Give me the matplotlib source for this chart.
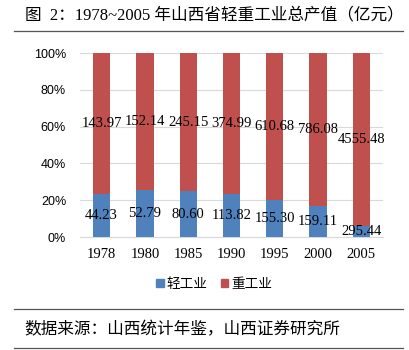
import matplotlib
matplotlib.use("Agg")
import matplotlib.pyplot as plt
from matplotlib.lines import Line2D
from matplotlib.patches import Patch
import numpy as np

years = ["1978", "1980", "1985", "1990", "1995", "2000", "2005"]
light = [44.23, 52.79, 80.60, 113.82, 155.30, 159.11, 295.44]
heavy = [143.97, 152.14, 245.15, 374.99, 610.68, 786.08, 4555.48]
series_names = ["轻工业", "重工业"]

title = "图  2：1978~2005 年山西省轻重工业总产值（亿元）"
source = "数据来源：山西统计年鉴，山西证券研究所"

blue = "#4F81BD"
red = "#C0504D"
cjk = ["Liberation Serif", "Noto Sans CJK SC"]
cjk_sans = ["Noto Sans CJK SC", "DejaVu Sans"]

light_a = np.array(light)
heavy_a = np.array(heavy)
total = light_a + heavy_a
lp = light_a / total
hp = heavy_a / total
x = np.arange(len(years))

fig = plt.figure(figsize=(4.1, 3.5), dpi=100)
ax = fig.add_axes([80 / 410, 1 - 237 / 350, 303 / 410, 184 / 350])

ax.bar(x, lp, width=0.4, color=blue, zorder=3)
ax.bar(x, hp, width=0.4, bottom=lp, color=red, zorder=3)

for i in range(len(years)):
    ax.text(x[i], lp[i] / 2, "%.2f" % light[i], ha="center", va="center",
            family="Liberation Serif", fontsize=10.5, zorder=4)
    ax.text(x[i], lp[i] + hp[i] / 2, "%.2f" % heavy[i], ha="center", va="center",
            family="Liberation Serif", fontsize=10.5, zorder=4)

ax.set_xlim(-0.5, len(years) - 0.5)
ax.set_ylim(0, 1)
ax.set_yticks(np.linspace(0, 1, 6))
ax.set_yticklabels(["%d%%" % v for v in range(0, 101, 20)],
                   family="Liberation Sans", fontsize=9)
ax.set_xticks(x)
ax.set_xticklabels(years, family="Liberation Serif", fontsize=10.5)
ax.tick_params(axis="y", length=0, pad=10)
ax.tick_params(axis="x", length=0, pad=8)
ax.yaxis.grid(True, color="#D9D9D9", linewidth=0.8, zorder=0)
for s in ["top", "right", "left"]:
    ax.spines[s].set_visible(False)
ax.spines["bottom"].set_color("#D9D9D9")

handles = [Patch(color=blue), Patch(color=red)]
fig.legend(handles, series_names, loc="center", bbox_to_anchor=(214 / 410, 1 - 284 / 350),
           ncol=2, frameon=False, prop={"family": cjk_sans, "size": 9.8},
           handlelength=0.55, handleheight=0.55, handletextpad=0.2, columnspacing=1.0)

fig.text(25 / 410, 1 - 15 / 350, title, ha="left", va="center",
         family=cjk, fontsize=12)
fig.add_artist(Line2D([14 / 410, 403 / 410], [1 - 31 / 350] * 2, color="#555555", lw=0.9))
fig.add_artist(Line2D([14 / 410, 403 / 410], [1 - 309 / 350] * 2, color="#555555", lw=0.9))
fig.add_artist(Line2D([14 / 410, 403 / 410], [1 - 348 / 350] * 2, color="#555555", lw=0.9))
fig.text(24 / 410, 1 - 330 / 350, source, ha="left", va="center",
         family=cjk_sans, fontsize=12)

fig.savefig("out.png", dpi=100)
